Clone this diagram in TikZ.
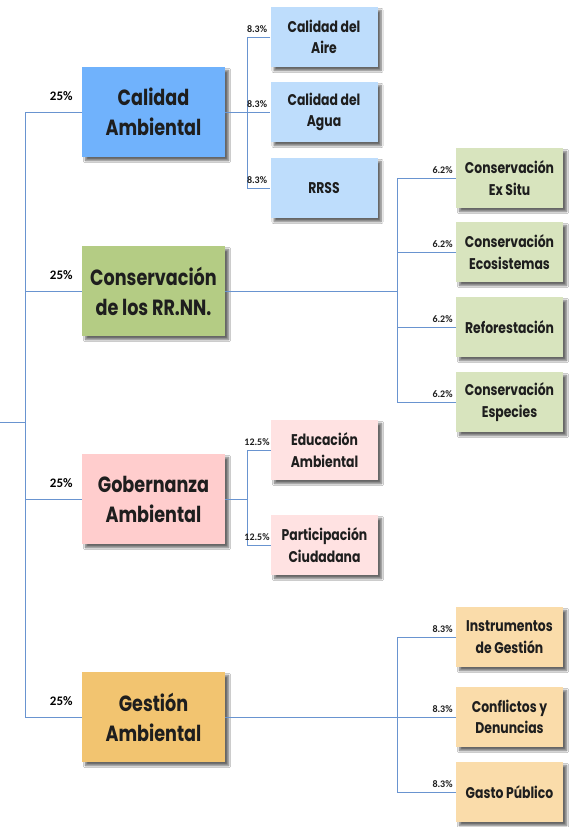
\documentclass[tikz,border=0pt]{standalone}
\usepackage{fontspec}
\setmainfont{Poppins}[FakeStretch=0.8]
\newfontfamily\pctfont{Carlito}
\usetikzlibrary{shadows.blur,calc}
\definecolor{linec}{RGB}{105,148,208}
\definecolor{txt}{RGB}{30,30,30}
\definecolor{caM}{RGB}{112,178,252}
\definecolor{caS}{RGB}{190,221,252}
\definecolor{crM}{RGB}{180,204,132}
\definecolor{crS}{RGB}{216,228,190}
\definecolor{gbM}{RGB}{255,205,205}
\definecolor{gbS}{RGB}{255,226,226}
\definecolor{gaM}{RGB}{242,196,112}
\definecolor{gaS}{RGB}{250,220,170}
\begin{document}
\begin{tikzpicture}[x=1pt,y=-1pt,
  conn/.style={draw=linec, line width=0.75pt},
  box/.style={rectangle, align=center, text=txt, inner sep=2pt,
    blur shadow={shadow xshift=3.5pt, shadow yshift=-3.5pt, shadow blur steps=6, shadow opacity=60}},
  mainbox/.style={box, minimum width=143pt, minimum height=90pt, font=\fontsize{22}{30}\selectfont\bfseries},
  subbox/.style={box, minimum width=107pt, minimum height=60pt, font=\fontsize{15.5}{21.5}\selectfont\bfseries},
  bigpct/.style={font=\pctfont\bfseries\fontsize{13}{13}\selectfont, inner sep=0pt, anchor=south east, text=black},
  smallpct/.style={font=\pctfont\bfseries\fontsize{10}{10}\selectfont, inner sep=0pt, anchor=south east, text=txt},
]
\fill[white] (0,0) rectangle (578,827);
\useasboundingbox (0,0) rectangle (578,827);

% main boxes
\node[mainbox, fill=caM] (ca) at (153.5,112) {Calidad\\Ambiental};
\node[mainbox, fill=crM] (cr) at (153.5,291) {Conservación\\de los RR.NN.};
\node[mainbox, fill=gbM] (gb) at (153.5,499) {Gobernanza\\Ambiental};
\node[mainbox, fill=gaM] (ga) at (153.5,717) {Gestión\\Ambiental};

% Calidad subs
\node[subbox, fill=caS] (ca1) at (324,37) {Calidad del\\Aire};
\node[subbox, fill=caS] (ca2) at (324,112) {Calidad del\\Agua};
\node[subbox, fill=caS] (ca3) at (324,188) {RRSS};

% Conservacion subs
\node[subbox, fill=crS] (cr1) at (509.5,178) {Conservación\\Ex Situ};
\node[subbox, fill=crS] (cr2) at (509.5,252) {Conservación\\Ecosistemas};
\node[subbox, fill=crS] (cr3) at (509.5,327) {Reforestación};
\node[subbox, fill=crS] (cr4) at (509.5,402) {Conservación\\Especies};

% Gobernanza subs
\node[subbox, fill=gbS] (gb1) at (324.5,450) {Educación\\Ambiental};
\node[subbox, fill=gbS] (gb2) at (324.5,545) {Participación\\Ciudadana};

% Gestion subs
\node[subbox, fill=gaS] (ga1) at (509.5,637) {Instrumentos\\de Gestión};
\node[subbox, fill=gaS] (ga2) at (509.5,717) {Conflictos y\\Denuncias};
\node[subbox, fill=gaS] (ga3) at (509.5,792) {Gasto Público};

% connectors
\coordinate (tx) at (25,0);
\coordinate (cx) at (247,0);
\coordinate (rx) at (397,0);
\coordinate (root) at (0,422);

\draw[conn] (ca.west) -- (ca.west -| tx) -- (ga.west -| tx) -- (ga.west);
\draw[conn] (cr.west) -- (cr.west -| tx);
\draw[conn] (gb.west) -- (gb.west -| tx);
\draw[conn] (root) -- (root -| tx);

\draw[conn] (ca.east) -- (ca2.west);
\draw[conn] (ca1.west) -- (ca1.west -| cx) -- (ca3.west -| cx) -- (ca3.west);

\draw[conn] (cr.east) -- (cr.east -| rx);
\draw[conn] (cr1.west) -- (cr1.west -| rx) -- (cr4.west -| rx) -- (cr4.west);
\draw[conn] (cr2.west) -- (cr2.west -| rx);
\draw[conn] (cr3.west) -- (cr3.west -| rx);

\draw[conn] (gb.east) -- (gb.east -| cx);
\draw[conn] (gb1.west) -- (gb1.west -| cx) -- (gb2.west -| cx) -- (gb2.west);

\draw[conn] (ga.east) -- (ga2.west);
\draw[conn] (ga1.west) -- (ga1.west -| rx) -- (ga3.west -| rx) -- (ga3.west);

% percentages
\foreach \n in {ca,cr,gb,ga}{
  \node[bigpct] (p\n) at ($(\n.west)+(-9,-11)$) {25\%};
}
\foreach \n in {ca1,ca2,ca3,ga1,ga2,ga3}{
  \node[smallpct] (p\n) at ($(\n.west)+(-3,-4)$) {8.3\%};
}
\foreach \n in {cr1,cr2,cr3,cr4}{
  \node[smallpct] (p\n) at ($(\n.west)+(-3,-4)$) {6.2\%};
}
\foreach \n in {gb1,gb2}{
  \node[smallpct] (p\n) at ($(\n.west)+(-1,-4)$) {12.5\%};
}
\end{tikzpicture}
\end{document}
